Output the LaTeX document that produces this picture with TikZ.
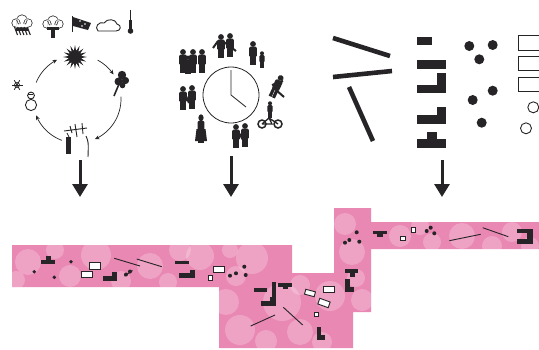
\documentclass[tikz,border=0pt]{standalone}
\usetikzlibrary{arrows.meta}
\definecolor{ink}{RGB}{38,36,38}
\definecolor{rose}{RGB}{234,136,180}

\tikzset{
  blk/.style={fill=ink},
  openbox/.style={fill=white,draw=ink,line width=0.9pt},
  cycarrow/.style={draw=ink,line width=0.7pt,-{Stealth[length=4.5pt,width=4pt]}},
  downarrow/.style={draw=ink,line width=3pt,-{Triangle[length=13pt,width=15pt]}},
  thinline/.style={draw=ink,line width=0.9pt},
  bar/.style={draw=ink,line width=4.6pt},
  bokeh/.style={fill=white,opacity=0.22},
  person/.pic={
    \fill[ink] (0,-11) circle (2.9);
    \fill[ink,rounded corners=1.2pt] (-3.8,-8.4) rectangle (3.8,2);
    \fill[ink] (-3.4,1) rectangle (-0.3,10);
    \fill[ink] (0.3,1) rectangle (3.4,10);
  },
  cloudline/.pic={
    \fill[ink] (-6,1) circle (4.6) (0,-2) circle (5.6) (6,1) circle (4.6) (-6,-3.6) rectangle (6,5.6);
    \fill[white] (-6,1) circle (3.8) (0,-2) circle (4.8) (6,1) circle (3.8) (-6,-2.8) rectangle (6,4.8);
  },
}

\newcommand{\pinkband}{(12,245) -- (292,245) -- (292,273) -- (334,273) -- (334,208) -- (371,208) -- (371,222) -- (539,222) -- (539,249) -- (371,249) -- (371,312) -- (353,312) -- (353,348) -- (219,348) -- (219,287) -- (12,287) -- cycle}

\begin{document}
\begin{tikzpicture}[x=1pt,y=-1pt]
\useasboundingbox (0,0) rectangle (539,349);

% ---------- seasons ----------
% weather row
\pic at (22,22) {cloudline};
\foreach \i in {0,...,4} \draw[ink,line width=1.1pt] (14.5+3.2*\i,27) -- ++(3,8);
\fill[ink] (16,28) rectangle (28,31);
\pic at (53,23) {cloudline};
\fill[ink] (51,27) rectangle (55,38);
\fill[ink] (47,27) rectangle (59,30);
\draw[ink,line width=1pt] (72.5,16) -- (72.5,32);
\fill[ink] (73,17) -- (91,23) -- (88,30) -- (73,26) -- cycle;
\fill[white] (80,21) circle (0.9) (85,24) circle (0.9) (82,26) circle (0.8);
\draw[ink,line width=0.9pt] (98,31) .. controls (94,27) and (99,21) .. (104,23)
  .. controls (107,18) and (116,19) .. (117,24) .. controls (122,25) and (121,31) .. (116,31) -- cycle;
\draw[ink,line width=0.9pt] (130.5,10) -- (130.5,28);
\fill[ink] (129,20) rectangle (132,31);
\fill[ink] (130.5,31) circle (2.8);

% season cycle: spiky sun
\coordinate (sun) at (75,57);
\fill[ink] plot[samples=33,domain=0:360,variable=\t]
  ({75+(mod(round(\t/11.25),2)==0 ? 12 : 6)*cos(\t)},{57+(mod(round(\t/11.25),2)==0 ? 12 : 6)*sin(\t)}) -- cycle;
\fill[ink] (sun) circle (6.5);

\fill[ink] (122,75) circle (4.2) (125.5,80.5) circle (3.6) (118.5,81.5) circle (4) (122.5,85.5) circle (2.8);
\draw[ink,line width=1.6pt] (119,84) -- (114,96);

\draw[ink,line width=0.9pt] (64,131) -- (87,128) (75,124) -- (77,137) (82,123) -- (83,134) (70,126) -- (72,133);
\fill[ink] (65.5,137) rectangle (70.5,154);
\draw[ink,line width=0.8pt] (67,133) -- (69,137);
\draw[ink,line width=0.9pt] (86,136) .. controls (88.5,142) .. (88,157);

\foreach \a in {0,60,120} \draw[ink,line width=0.8pt] (17,85) -- ++(\a:5.5) (17,85) -- ++(\a+180:5.5);
\draw[ink,line width=0.7pt] (17,85) circle (2.5);
\draw[ink,line width=0.9pt] (31,95.5) circle (3.4) (31,105) circle (5.6);
\fill[ink] (27.5,93.5) rectangle (33,95);

\draw[cycarrow] plot[domain=202:243,samples=20,variable=\t] ({77+44*cos(\t)},{99+44*sin(\t)});
\draw[cycarrow] plot[domain=298:326,samples=20,variable=\t] ({77+44*cos(\t)},{99+44*sin(\t)});
\draw[cycarrow] plot[domain=-3:66,samples=25,variable=\t] ({77+44*cos(\t)},{99+44*sin(\t)});
\draw[cycarrow] plot[domain=110:158,samples=20,variable=\t] ({77+44*cos(\t)},{99+44*sin(\t)});

% ---------- clock and people ----------
\coordinate (clock) at (231,95);
\draw[ink,line width=0.8pt] (clock) circle (28);
\draw[ink,line width=0.8pt] (231,70) -- (clock) -- (246,107);

% pair at the top
\pic at (221,48) {person};
\pic at (230,47) {person};
\draw[ink,line width=2pt] (224,42) -- (236,51) (218,41) -- (213,48);
% adult with child
\pic at (253,55) {person};
\pic[scale=0.7] at (262,61) {person};
% runner
\pic[rotate=-25] at (276,88) {person};
\draw[ink,line width=2pt] (272,85) -- (283,81) (276,90) -- (284,97);
% cyclist
\draw[ink,line width=1.5pt] (262,124) circle (4) (278,124) circle (4);
\draw[ink,line width=1.3pt] (262,124) -- (269,118) -- (278,124) (269,118) -- (272,124) -- (262,124);
\pic[scale=0.7] at (270,111) {person};
% pair at the bottom
\pic at (236,138) {person};
\pic at (245,137) {person};
\draw[ink,line width=2pt] (239,133) -- (243,140);
% tall walker
\pic[xscale=0.9,yscale=1.2] at (201,131) {person};
\fill[ink] (196.5,129) -- (205.5,129) -- (207,141) -- (195,141) -- cycle;
% pair on the left
\pic at (183,100) {person};
\pic at (192,99) {person};
\draw[ink,line width=2pt] (186,96) -- (189,103);
% family group
\pic at (183,63) {person};
\pic at (193,63) {person};
\pic[scale=0.75] at (188,66) {person};
\pic at (202,63) {person};

% ---------- plan elements ----------
\draw[bar] (333,38) -- (390,56);
\draw[bar] (333,77) -- (392,71);
\draw[bar] (349,87) -- (373,141);

\fill[ink] (416.7,36.7) rectangle (431.7,45);
\fill[ink] (416.7,60) rectangle (446,69.3);
\fill[ink] (416.7,85) rectangle (446,93.3);
\fill[ink] (436.7,73.3) rectangle (446,85);
\fill[ink] (416.7,115) rectangle (446,124);
\fill[ink] (436.7,107.3) rectangle (446,115);
\fill[ink] (416.7,139) rectangle (446,147.7);
\fill[ink] (427.3,131.7) rectangle (436.7,139);

\foreach \p in {(469.3,46),(492.7,45),(479.3,59.3),(492.7,90.7),(472.7,100),(481.7,122.7)}
  \fill[ink] \p circle (5);

\draw[ink,line width=0.9pt] (518.3,35) rectangle (545,50);
\draw[ink,line width=0.9pt] (518.3,56) rectangle (545,70.7);
\draw[ink,line width=0.9pt] (518.3,77.3) rectangle (545,91.7);
\draw[ink,line width=0.9pt] (533.3,107.3) circle (5.5);
\draw[ink,line width=0.9pt] (526,128.3) circle (5.5);

% ---------- downward arrows ----------
\coordinate (s1) at (80,160);  \coordinate (e1) at (80,197);
\coordinate (s2) at (231,156); \coordinate (e2) at (231,197);
\coordinate (s3) at (442,160); \coordinate (e3) at (442,197);
\draw[downarrow] (s1) -- (e1);
\draw[downarrow] (s2) -- (e2);
\draw[downarrow] (s3) -- (e3);

% ---------- pink band ----------
\fill[rose] \pinkband;
\begin{scope}
\clip \pinkband;
\foreach \x/\y/\r in {28/262/13, 70/276/11, 96/255/15, 150/266/13, 200/256/14, 252/258/16,
  282/302/19, 240/330/15, 300/332/13, 330/296/15, 352/252/13, 362/300/11, 400/236/11,
  462/236/13, 512/232/10, 121/281/10, 180/250/11, 226/302/13, 266/341/11, 345/224/11,
  432/242/9, 492/246/10, 55/250/9, 322/342/10, 300/285/10, 356/278/9, 236/276/10, 16/280/9,
  168/282/9, 230/250/8, 420/226/9, 530/246/9}
  \fill[bokeh] (\x,\y) circle (\r);
\end{scope}

% small plan symbols on the band
\fill[ink] (41,260) rectangle (55,264);
\fill[ink] (45.7,256) rectangle (50.7,260);
\foreach \p in {(34.3,271.7),(54.3,277.3),(71,261.7)} \fill[ink] \p circle (1.9);
\draw[openbox] (89.3,262.7) rectangle (100,269.3);
\draw[openbox] (81.7,271) rectangle (92.3,277.7);
\fill[ink] (102.7,275.7) rectangle (116.7,280.7);
\fill[ink] (111.7,271.7) rectangle (116.7,275.7);
\fill[ink] (126,274.5) circle (2) (130,271.5) circle (2);
\draw[ink,line width=1pt] (124.5,276) -- (132.5,270.5);
\draw[thinline] (114.3,258.3) -- (140,266);
\draw[thinline] (136.7,259) -- (161.7,266.7);

\fill[ink] (175,261) rectangle (189.3,264.3);
\fill[ink] (179.3,273.3) rectangle (195,278.3);
\fill[ink] (190,270) rectangle (195,273.3);
\draw[openbox] (213.3,266.7) rectangle (224.3,272.3);
\draw[openbox] (208.3,275) rectangle (212.7,280);
\foreach \p in {(230,275.7),(236,273.3),(244.3,266.7),(245.7,275)} \fill[ink] \p circle (2);

\fill[ink] (254,288.3) rectangle (267.3,292.3);
\fill[ink] (271.7,281.7) rectangle (275.7,296.7);
\fill[ink] (278.3,283.3) rectangle (291.7,286.7);
\fill[ink] (282.7,286.7) rectangle (287.7,289.3);
\fill[ink] (260.7,301) rectangle (275.7,306);
\fill[ink] (270,297.3) rectangle (275.7,301);
\draw[thinline] (250.7,326) -- (275,315);
\draw[thinline] (283.3,307.3) -- (302.7,325);
\draw[openbox,rotate around={-15:(310,293)}] (305,290.5) rectangle (315,295.5);
\draw[openbox] (323.3,286.7) rectangle (334,292.7);
\draw[openbox,rotate around={-20:(324,303)}] (318.5,300) rectangle (329.5,306);
\draw[openbox] (314,312.7) rectangle (318.3,316.7);
\fill[ink] (316.7,326.7) rectangle (321,340);
\fill[ink] (316.7,335) rectangle (325,340);

\fill[ink] (345,269.3) rectangle (358.3,273.3);
\fill[ink] (350,273.3) rectangle (355,276.7);
\fill[ink] (345,279.3) rectangle (350,291.7);
\fill[ink] (345,287.3) rectangle (354,291.7);

\foreach \p in {(345,242.7),(349.3,240),(356.7,232.3),(359.3,241.7)} \fill[ink] \p circle (2);
\fill[ink] (372.7,230.7) rectangle (387.3,234.3);
\fill[ink] (376.7,234.3) rectangle (382.7,237.3);
\draw[openbox] (400.7,236) rectangle (405,240.7);
\draw[openbox] (411,227.7) rectangle (415.7,232.7);
\foreach \p in {(426.7,231),(430.7,227.7),(434.3,233.3)} \fill[ink] \p circle (2);
\draw[thinline] (449.3,240.7) -- (480.7,234.3);
\draw[thinline] (482.7,227.7) -- (508.3,236.7);
\fill[ink] (517.3,229.3) rectangle (533.3,233.3);
\fill[ink] (526.7,233.3) rectangle (533.3,243.3);
\fill[ink] (517.3,239.3) rectangle (533.3,244);
\end{tikzpicture}
\end{document}
